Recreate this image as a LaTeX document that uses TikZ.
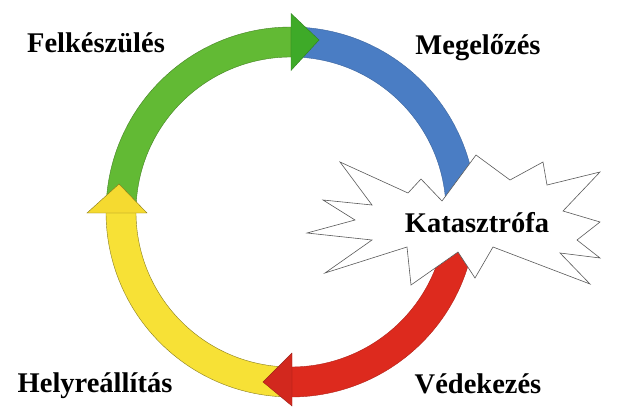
\documentclass[tikz,border=0pt]{standalone}
\usepackage{fontspec}
\setmainfont{Liberation Serif}
\begin{document}
\begin{tikzpicture}[x=1pt,y=-1pt,
  band/.style={line width=0.4pt},
  arrowhead/.style={line width=0.4pt},
  lbl/.style={font=\fontsize{28.5}{34}\selectfont\bfseries, anchor=base, inner sep=0pt},
  burst/.style={fill=white, draw=black!65, line width=0.6pt, line join=miter}
]
\definecolor{cgreen}{RGB}{98,186,52}
\definecolor{cgreenhead}{RGB}{62,170,40}
\definecolor{cblue}{RGB}{74,125,196}
\definecolor{cred}{RGB}{221,42,30}
\definecolor{credhead}{RGB}{210,40,30}
\definecolor{cyellow}{RGB}{247,225,54}
\definecolor{cyellowhead}{RGB}{245,218,48}

\useasboundingbox (0,0) rectangle (635,407);

% ring of four arcs around the centre
\begin{scope}[shift={(291,212)}]
  % blue band: top to right
  \draw[band, fill=cblue, draw=cblue!80!black]
    (-90:185) arc[start angle=-90, end angle=0, radius=185]
    -- (0:155) arc[start angle=0, end angle=-90, radius=155] -- cycle;
  % red band: right to bottom
  \draw[band, fill=cred, draw=cred!80!black]
    (12:185) arc[start angle=12, end angle=90, radius=185]
    -- (90:155) arc[start angle=90, end angle=12, radius=155] -- cycle;
  % yellow band: bottom to left
  \draw[band, fill=cyellow, draw=cyellow!55!black]
    (90:185) arc[start angle=90, end angle=180, radius=185]
    -- (180:155) arc[start angle=180, end angle=90, radius=155] -- cycle;
  % green band: left to top
  \draw[band, fill=cgreen, draw=cgreen!70!black]
    (-180:185) arc[start angle=-180, end angle=-90, radius=185]
    -- (-90:155) arc[start angle=-90, end angle=-180, radius=155] -- cycle;
\end{scope}

% explosion shape with the central label
\draw[burst] (340,162) -- (408,193) -- (421,179) -- (442,201) -- (476,155)
  -- (510,180) -- (543,162) -- (547,185) -- (600,172) -- (563,211)
  -- (600,222) -- (577,240) -- (600,258) -- (560,253) -- (590,284)
  -- (493,247) -- (475,278) -- (458,252) -- (411,285) -- (407,247)
  -- (325,273) -- (372,240) -- (307,233) -- (355,220) -- (323,200)
  -- (372,205) -- cycle;
\node[lbl] (kat) at (477,232) {Katasztrófa};

% arrowheads
\begin{scope}[shift={(291,212)}]
  \coordinate (gA) at (0,-141.5);
  \coordinate (gB) at (0,-198.5);
  \coordinate (gT) at (28,-172);
  \draw[arrowhead, fill=cgreenhead, draw=cgreenhead!75!black] (gA) -- (gB) -- (gT) -- cycle;
  \coordinate (yA) at (-144,1);
  \coordinate (yB) at (-204,1);
  \coordinate (yT) at (-172,-28);
  \draw[arrowhead, fill=cyellowhead, draw=cyellowhead!55!black] (yA) -- (yB) -- (yT) -- cycle;
  \coordinate (rA) at (1,141);
  \coordinate (rB) at (1,194);
  \coordinate (rT) at (-28,170);
  \draw[arrowhead, fill=credhead, draw=credhead!75!black] (rA) -- (rB) -- (rT) -- cycle;
\end{scope}

% phase labels
\node[lbl] (felk) at (96,52) {Felkészülés};
\node[lbl] (meg) at (478,54) {Megelőzés};
\node[lbl] (helyre) at (95,392) {Helyreállítás};
\node[lbl] (ved) at (478,393) {Védekezés};
\end{tikzpicture}
\end{document}
